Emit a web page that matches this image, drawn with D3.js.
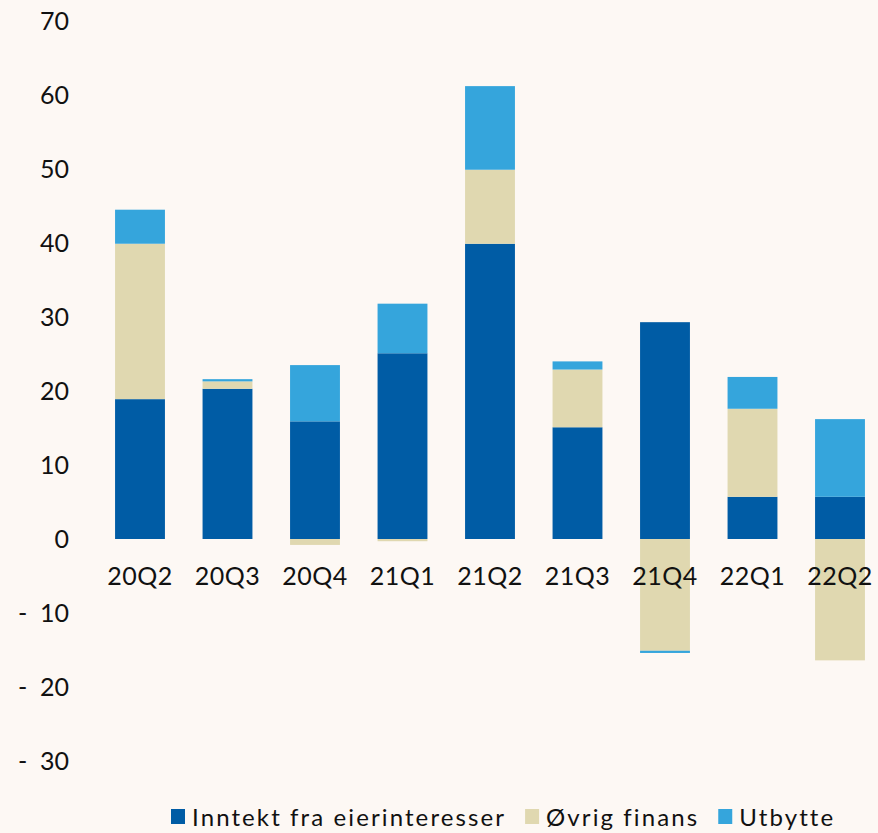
<!DOCTYPE html>
<html>
<head>
  <meta charset="UTF-8" />
  <script src="https://cdn.jsdelivr.net/npm/d3@7"></script>
  <style>
    body { margin: 0; background: #fdf8f4; }
    svg { display: block; font-family: Lato, 'Open Sans', sans-serif; }
  </style>
</head>
<body>
  <svg></svg>
  <script>
    // data
    const quarters = ['20Q2', '20Q3', '20Q4', '21Q1', '21Q2', '21Q3', '21Q4', '22Q1', '22Q2'];
    const eierinteresser = [18.9, 20.3, 15.9, 25.1, 39.9, 15.1, 29.3, 5.7, 5.7];
    const ovrigFinans = [21.0, 1.0, -0.8, -0.3, 10.0, 7.8, -15.1, 11.9, -16.4];
    const utbytte = [4.6, 0.3, 7.6, 6.7, 11.3, 1.1, -0.3, 4.3, 10.5];
    const yTicks = [70, 60, 50, 40, 30, 20, 10, 0, -10, -20, -30];

    const seriesNames = ['Inntekt fra eierinteresser', 'Øvrig finans', 'Utbytte'];
    const colors = ['#005ca5', '#e0d8b0', '#35a5dc'];

    const width = 878, height = 833;
    const svg = d3.select('svg').attr('width', width).attr('height', height);

    svg.append('rect').attr('width', width).attr('height', height).attr('fill', '#fdf8f4');

    const y = d3.scaleLinear().domain([-30, 70]).range([761, 21]);
    const x = d3.scaleBand()
      .domain(quarters)
      .range([96.25, 883.75])
      .paddingInner(0.43)
      .paddingOuter(0.215);

    const rows = quarters.map((q, i) => ({
      q: q,
      s0: eierinteresser[i],
      s1: ovrigFinans[i],
      s2: utbytte[i]
    }));

    const stack = d3.stack()
      .keys(['s0', 's1', 's2'])
      .offset(d3.stackOffsetDiverging);
    const layers = stack(rows);

    // y labels
    svg.append('g')
      .selectAll('text')
      .data(yTicks)
      .enter()
      .append('text')
      .attr('x', 69)
      .attr('y', d => y(d))
      .attr('dy', '0.36em')
      .attr('text-anchor', 'end')
      .attr('font-size', 25)
      .attr('fill', '#111')
      .attr('xml:space', 'preserve')
      .text(d => d < 0 ? '-  ' + Math.abs(d) : d);

    svg.append('g')
      .selectAll('g')
      .data(layers)
      .enter()
      .append('g')
      .attr('fill', (d, i) => colors[i])
      .selectAll('rect')
      .data(d => d)
      .enter()
      .append('rect')
      .attr('x', d => x(d.data.q))
      .attr('width', x.bandwidth())
      .attr('y', d => y(Math.max(d[0], d[1])))
      .attr('height', d => Math.abs(y(d[0]) - y(d[1])));

    // category labels
    svg.append('g')
      .selectAll('text')
      .data(quarters)
      .enter()
      .append('text')
      .attr('x', d => x(d) + x.bandwidth() / 2)
      .attr('y', 576)
      .attr('dy', '0.36em')
      .attr('text-anchor', 'middle')
      .attr('font-size', 25)
      .attr('letter-spacing', 0.5)
      .attr('fill', '#111')
      .text(d => d);

    // legend
    const legend = svg.append('g').attr('transform', 'translate(171,817)');
    let lx = 0;
    seriesNames.forEach((name, i) => {
      const g = legend.append('g').attr('transform', 'translate(' + lx + ',0)');
      g.append('rect')
        .attr('x', 0).attr('y', -8)
        .attr('width', 14).attr('height', 15)
        .attr('fill', colors[i]);
      const t = g.append('text')
        .attr('x', 21)
        .attr('y', 0)
        .attr('dy', '0.36em')
        .attr('font-size', 24)
        .attr('letter-spacing', 2.1)
        .attr('fill', '#111')
        .text(name);
      lx += 21 + t.node().getComputedTextLength() + 19;
    });
  </script>
</body>
</html>
